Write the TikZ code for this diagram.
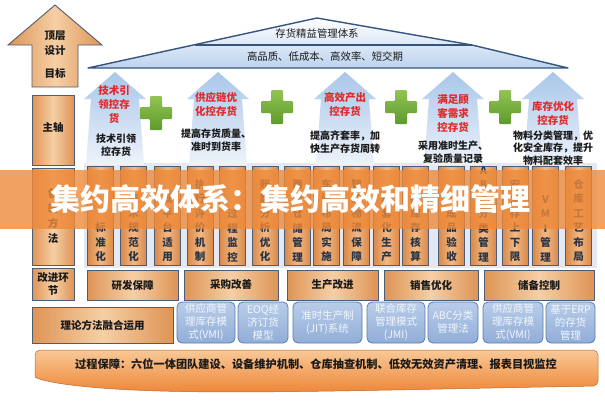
\documentclass[tikz,border=0pt]{standalone}
\usepackage{fontspec}
\setmainfont{Noto Sans CJK SC}
\definecolor{edge}{HTML}{4E5D73}
\definecolor{tanA}{HTML}{DE9455}
\definecolor{tanB}{HTML}{F6CFA6}
\definecolor{roofedge}{HTML}{35557F}
\definecolor{roofbot}{HTML}{BCD3EF}
\definecolor{arrtop}{HTML}{A9C6EA}
\definecolor{arrbot}{HTML}{EEF3FB}
\definecolor{redt}{HTML}{E02A2A}
\definecolor{darkt}{HTML}{1A1A1A}
\definecolor{greenA}{HTML}{92C453}
\definecolor{greenB}{HTML}{5E9A2C}
\definecolor{panel}{HTML}{E2E9F4}
\definecolor{colA}{HTML}{D98848}
\definecolor{colB}{HTML}{F2B884}
\definecolor{colt}{HTML}{2A3344}
\definecolor{bannerc}{HTML}{EE8A3A}
\definecolor{blueA}{HTML}{B9CDE9}
\definecolor{blueB}{HTML}{91ADD7}
\definecolor{blueedge}{HTML}{5A7DB0}
\definecolor{bluet}{HTML}{F2F6FC}
\definecolor{barA}{HTML}{F8C896}
\definecolor{barB}{HTML}{EE8434}
\begin{document}
\begin{tikzpicture}[x=1pt,y=-1pt,
  tan/.style={draw=edge, line width=0.9pt, left color=tanA, right color=tanA, middle color=tanB},
  tanbox/.style={tan, inner sep=0pt, align=center, text=darkt, font=\bfseries\fontsize{10.5}{13}\selectfont},
  lbl/.style={align=center, text=darkt, font=\bfseries\fontsize{10.5}{15}\selectfont},
  roof/.style={draw=roofedge, line width=1.4pt, top color=white, bottom color=roofbot, line join=round},
  rooft/.style={text=darkt, font=\fontsize{10.4}{12}\selectfont},
  barrow/.style={top color=arrtop, bottom color=arrbot},
  redtxt/.style={align=center, text=redt, font=\bfseries\fontsize{10.5}{14}\selectfont},
  blktxt/.style={align=center, text=darkt, font=\bfseries\fontsize{10}{13}\selectfont},
  plusshape/.style={top color=greenA, bottom color=greenB, rounded corners=1pt},
  colbox/.style={draw=edge, line width=0.9pt, left color=colA, right color=colA, middle color=colB, inner sep=0pt, minimum width=26pt, minimum height=99pt},
  coltxt/.style={align=center, text=colt, inner sep=0pt, font=\bfseries\fontsize{10.5}{14.5}\selectfont},
  bannert/.style={text=white, font=\bfseries\fontsize{30}{32}\selectfont},
  bluebox/.style={draw=blueedge, line width=0.8pt, rounded corners=5pt, top color=blueA, bottom color=blueB, inner sep=0pt, align=center, text=bluet, minimum height=41pt, font=\fontsize{10.5}{13}\selectfont},
  bar/.style={draw=barB!80!black, line width=0.5pt, top color=barA, bottom color=barB},
  bartxt/.style={text=darkt, font=\bfseries\fontsize{11.2}{13}\selectfont}
]
\useasboundingbox (0,0) rectangle (605,400);
\fill[white] (0,0) rectangle (605,400);

% left up arrow
\path[tan] (55,5) -- (102,45) -- (78,45) -- (78,87) -- (32,87) -- (32,45) -- (8,45) -- cycle;
\node[lbl] (top) at (55,43) {顶层\\设计};
\node[lbl] (goal) at (55,74) {目标};

% left boxes
\node[tanbox, minimum width=42pt, minimum height=70pt] (axis) at (53,130) {};
\node[lbl] (axist) at (53,127) {主轴};
\node[tanbox, minimum width=42pt, minimum height=97pt] (method) at (53,216.5) {};
\node[lbl, font=\bfseries\fontsize{10.5}{15}\selectfont] (methodt) at (53,216) {创\\新\\方\\法};

% roof
\path[roof] (88,68) -- (317,18) -- (472,45) -- (568,68) -- cycle;
\draw[roofedge, line width=1.2pt] (195,45) -- (472,45);
\node[rooft] (sys) at (317,34) {存货精益管理体系};
\node[rooft] (goals) at (325,57) {高品质、低成本、高效率、短交期};

% panel behind columns
\fill[panel] (84,163) rectangle (597,268);

% blue arrows
\foreach \cx [count=\i] in {115,218,345,453,553} {
  \path[barrow] (\cx,72) -- ({\cx+31},99) -- ({\cx+24},99) -- ({\cx+29},165) -- ({\cx-29},165) -- ({\cx-24},99) -- ({\cx-31},99) -- cycle;
}

% plus signs
\foreach \px/\py [count=\i] in {156/113,277/107,401/107,505/107} {
  \begin{scope}[shift={(\px,\py)}]
    \path[plusshape] (-6,-17) -- (6,-17) -- (6,-6) -- (16,-6) -- (16,6) -- (6,6) -- (6,17) -- (-6,17) -- (-6,6) -- (-16,6) -- (-16,-6) -- (-6,-6) -- cycle;
  \end{scope}
}

% arrow texts
\node[redtxt] (r1) at (114,105) {技术引\\领控存\\货};
\node[blktxt] (b1) at (116,145) {技术引领\\控存货};
\node[redtxt] (r2) at (216,104) {供应链优\\化控存货};
\node[blktxt] (b2) at (216,140) {提高存货质量、\\准时到货率};
\node[redtxt] (r3) at (345,104) {高效产出\\控存货};
\node[blktxt] (b3) at (345,142) {提高齐套率，加\\快生产存货周转};
\node[redtxt] (r4) at (453,114) {满足顾\\客需求\\控存货};
\node[blktxt] (b4) at (453,152) {采用准时生产、\\复验质量记录};
\node[redtxt] (r5) at (553,113) {库存优化\\控存货};
\node[blktxt, font=\bfseries\fontsize{10}{12.5}\selectfont] (b5) at (553,148) {物料分类管理，优\\化安全库存，提升\\物料配套效率};

% columns
\foreach \x/\t [count=\i] in {
  100.5/标\\准\\化,
  133.5/技\\术\\规\\范\\化,
  167.5/现\\平\\台\\适\\用,
  200/执\\行\\评\\价\\机\\制,
  232.5/过\\程\\监\\控,
  265/账\\龄\\分\\析\\优\\化,
  297.5/两\\级\\仓\\储\\管\\理,
  326.5/车\\间\\布\\局\\实\\施,
  356.5/智\\能\\物\\流\\保\\障,
  386.5/成\\套\\化\\生\\产,
  415.5/按\\库\\存\\核\\算,
  451.5/产\\成\\品\\验\\收,
  483.5/A\\B\\C\\分\\类\\管\\理,
  515/安\\全\\存\\上\\下\\限,
  545.5/V\\M\\I\\管\\理,
  578.5/仓\\库\\工\\艺\\布\\局} {
  \node[colbox] (col\i) at (\x,215.5) {};
  \node[coltxt, anchor=south] (colt\i) at (\x,262) {\t};
}

% banner
\fill[bannerc, opacity=0.8] (0,170) rectangle (605,229);
\node[bannert] (banner) at (290,199) {集约高效体系：集约高效和精细管理};

% improvement row
\node[tanbox, minimum width=42pt, minimum height=32pt] (imp) at (53,284) {改进环\\节};
\node[tanbox, minimum width=91pt, minimum height=30pt] (rd) at (132.5,285) {研发保障};
\node[tanbox, minimum width=94pt, minimum height=30pt] (buy) at (231,285) {采购改善};
\node[tanbox, minimum width=91pt, minimum height=30pt] (prod) at (332.5,285) {生产改进};
\node[tanbox, minimum width=94pt, minimum height=30pt] (sale) at (431,285) {销售优化};
\node[tanbox, minimum width=110pt, minimum height=30pt] (store) at (539,285) {储备控制};

% methods row
\node[tanbox, minimum width=141pt, minimum height=36pt] (theory) at (102.5,325) {理论方法融合运用};
\node[bluebox, minimum width=58pt] (m1) at (206,322.5) {供应商管\\理库存模\\式(VMI)};
\node[bluebox, minimum width=50pt] (m2) at (263,322.5) {EOQ经\\济订货\\模型};
\node[bluebox, minimum width=69pt] (m3) at (327.5,322.5) {准时生产制\\(JIT)系统};
\node[bluebox, minimum width=58pt] (m4) at (396,322.5) {联合库存\\管理模式\\(JMI)};
\node[bluebox, minimum width=50pt] (m5) at (453,322.5) {ABC分类\\管理法};
\node[bluebox, minimum width=60pt] (m6) at (513,322.5) {供应商管\\理库存模\\式(VMI)};
\node[bluebox, minimum width=49pt] (m7) at (570.5,322.5) {基于ERP\\的存货\\管理};

% bottom bar
\path[bar, rounded corners=5pt] (35,377) -- (35,350) -- (598,350) -- (598,386) [sharp corners] .. controls (420,389) and (260,394) .. (160,391) .. controls (90,389) and (45,383) .. (35,377) -- cycle;
\node[bartxt] (proc) at (316,364) {过程保障：六位一体团队建设、设备维护机制、仓库抽查机制、低效无效资产清理、报表目视监控};
\end{tikzpicture}
\end{document}
